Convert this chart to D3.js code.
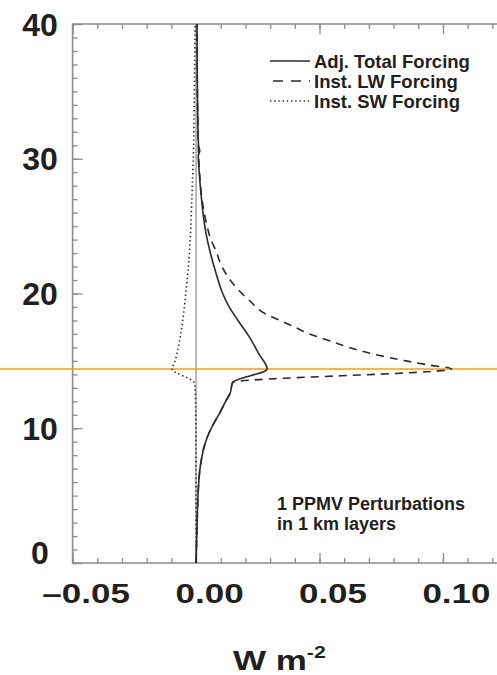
<!DOCTYPE html>
<html>
<head>
<meta charset="utf-8">
<script src="https://cdn.jsdelivr.net/npm/d3@7"></script>
<style>
body { margin: 0; background: #fff; }
text { font-family: "Liberation Sans", Arial, Helvetica, sans-serif; font-weight: bold; fill: #231f20; }
</style>
</head>
<body>
<script>
// altitude (km) and forcing (W m-2)
let totalKm  = [0, 2, 4, 6, 7, 8, 8.5, 9, 9.5, 10.4, 11.2, 12, 12.6, 13.4, 14.4, 15.5, 16.8, 18, 19, 20, 21.5, 23, 24.5, 26, 27.4, 29.2, 30.2, 30.6, 31, 33, 36, 40];
let totalVal = [0, 0.0003, 0.0006, 0.0011, 0.0016, 0.0025, 0.0031, 0.0039, 0.0049, 0.0073, 0.0098, 0.012, 0.0138, 0.0148, 0.0288, 0.0255, 0.0215, 0.017, 0.0134, 0.0108, 0.0081, 0.0058, 0.004, 0.0028, 0.002, 0.0012, 0.0009, 0.0015, 0.001, 0.0007, 0.0005, 0.0004];

let lwKm  = [0, 2, 4, 6, 7, 8, 8.5, 9, 9.5, 10.4, 11.2, 12, 12.6, 13.4, 14.4, 14.7, 15, 15.5, 16, 16.5, 17, 17.5, 18, 18.5, 19.5, 20.3, 21.1, 22.2, 23.2, 24, 24.9, 26, 27, 28, 29, 30, 33, 36, 40];
let lwVal = [0, 0.0003, 0.0006, 0.0011, 0.0016, 0.0025, 0.0031, 0.0039, 0.0049, 0.0073, 0.0098, 0.012, 0.0138, 0.0148, 0.1035, 0.094, 0.085, 0.072, 0.062, 0.054, 0.046, 0.040, 0.034, 0.028, 0.0215, 0.017, 0.0134, 0.010, 0.008, 0.006, 0.0046, 0.0033, 0.0024, 0.0018, 0.0014, 0.0011, 0.0007, 0.0005, 0.0004];

let swKm  = [0, 10, 12, 13, 13.4, 14.4, 15, 16, 17, 18, 19, 20, 21, 22, 23, 24, 25, 26, 27, 28, 29, 30, 32, 35, 38, 40];
let swVal = [0, -0.0001, -0.0002, -0.0004, -0.0008, -0.0097, -0.0085, -0.0072, -0.0062, -0.0054, -0.0047, -0.0042, -0.0036, -0.0031, -0.0027, -0.0024, -0.0021, -0.0019, -0.0017, -0.0015, -0.0013, -0.0011, -0.0009, -0.0007, -0.0005, -0.0004];

let xMajor = [-0.05, 0, 0.05, 0.10];
let xLabels = ["\u20130.05", "0.00", "0.05", "0.10"];
let yMajor = [0, 10, 20, 30, 40];
let tropopauseKm = 14.4;

let legendNames = ["Adj. Total Forcing", "Inst. LW Forcing", "Inst. SW Forcing"];
let noteLines = ["1 PPMV Perturbations", "in 1 km layers"];

let W = 497, H = 675;
let plotLeft = 72.6, plotTop = 24, plotBottom = 563;

let x = d3.scaleLinear().domain([-0.05, 0.13]).range([plotLeft, plotLeft + 0.18 * 2469]);
let y = d3.scaleLinear().domain([0, 40]).range([plotBottom, plotTop]);

let svg = d3.select("body").append("svg").attr("width", W).attr("height", H);

let axisColor = "#8c8c8c";
let ink = "#2b2b2b";

// ticks
let minorX = d3.range(-5, 14).map(i => i / 100);
let minorY = d3.range(0, 41);

let gb = svg.append("g").attr("transform", "translate(0," + plotBottom + ")");
gb.call(d3.axisBottom(x).tickValues(minorX).tickSize(-5).tickFormat(""));
gb.append("g").call(d3.axisBottom(x).tickValues(xMajor).tickSize(-10).tickFormat(""));

let gt = svg.append("g").attr("transform", "translate(0," + plotTop + ")");
gt.call(d3.axisTop(x).tickValues(minorX).tickSize(-5).tickFormat(""));
gt.append("g").call(d3.axisTop(x).tickValues(xMajor).tickSize(-10).tickFormat(""));

let gl = svg.append("g").attr("transform", "translate(" + plotLeft + ",0)");
gl.call(d3.axisLeft(y).tickValues(minorY).tickSize(-5).tickFormat(""));
gl.append("g").call(d3.axisLeft(y).tickValues(yMajor).tickSize(-10).tickFormat(""));

svg.selectAll(".domain").remove();
svg.selectAll(".tick line").attr("stroke", axisColor).attr("stroke-width", 1.3);

// frame
svg.append("path")
  .attr("d", "M" + W + "," + plotTop + "H" + plotLeft + "V" + plotBottom + "H" + W)
  .attr("fill", "none").attr("stroke", axisColor).attr("stroke-width", 1.6);

// zero line
svg.append("line")
  .attr("x1", x(0)).attr("x2", x(0)).attr("y1", y(0)).attr("y2", y(40))
  .attr("stroke", "#777").attr("stroke-width", 1);

// tick labels
svg.append("g").selectAll("text").data(xMajor).enter().append("text")
  .attr("transform", d => "translate(" + (x(d) + 13.5) + ",603) scale(1.25,1)")
  .attr("text-anchor", "middle")
  .attr("font-size", 28)
  .text((d, i) => xLabels[i]);

svg.append("g").selectAll("text").data(yMajor).enter().append("text")
  .attr("x", 40)
  .attr("y", d => d === 0 ? y(d) - 11 : y(d))
  .attr("dy", "0.36em")
  .attr("text-anchor", "middle")
  .attr("font-size", 32)
  .text(d => d);

// axis title
let title = svg.append("text")
  .attr("transform", "translate(233,670) scale(1.25,1)")
  .attr("font-size", 28);
title.append("tspan").text("W m");
title.append("tspan").attr("font-size", 17).attr("dy", -12).text("-2");

// tropopause
svg.append("line")
  .attr("x1", 0).attr("x2", W).attr("y1", y(tropopauseKm)).attr("y2", y(tropopauseKm))
  .attr("stroke", "#f09a2a").attr("stroke-width", 1.5);

// profiles
function profile(km, val) {
  return d3.line().curve(d3.curveMonotoneY)
    .x((d, i) => x(val[i])).y(d => y(d))(km);
}
let styles = [
  {km: totalKm, val: totalVal, dash: null},
  {km: lwKm, val: lwVal, dash: "8,6"},
  {km: swKm, val: swVal, dash: "1.4,2.8"}
];
svg.append("g").selectAll("path").data(styles).enter().append("path")
  .attr("d", s => profile(s.km, s.val))
  .attr("fill", "none")
  .attr("stroke", ink)
  .attr("stroke-width", 1.6)
  .attr("stroke-dasharray", s => s.dash);

// legend
let lg = svg.append("g");
legendNames.forEach((name, i) => {
  let yy = 61 + i * 20;
  lg.append("line")
    .attr("x1", 270).attr("x2", 310).attr("y1", yy).attr("y2", yy)
    .attr("stroke", ink).attr("stroke-width", 1.4)
    .attr("stroke-dasharray", styles[i].dash === "8,6" ? "10,8" : styles[i].dash)
    .attr("stroke-dashoffset", styles[i].dash === "8,6" ? -3 : 0);
  lg.append("text")
    .attr("x", 314).attr("y", yy + 6.5)
    .attr("font-size", 18.5)
    .text(name);
});

// note
noteLines.forEach((t, i) => {
  svg.append("text")
    .attr("x", 277).attr("y", 510 + i * 19.5)
    .attr("font-size", 18)
    .text(t);
});
</script>
</body>
</html>
